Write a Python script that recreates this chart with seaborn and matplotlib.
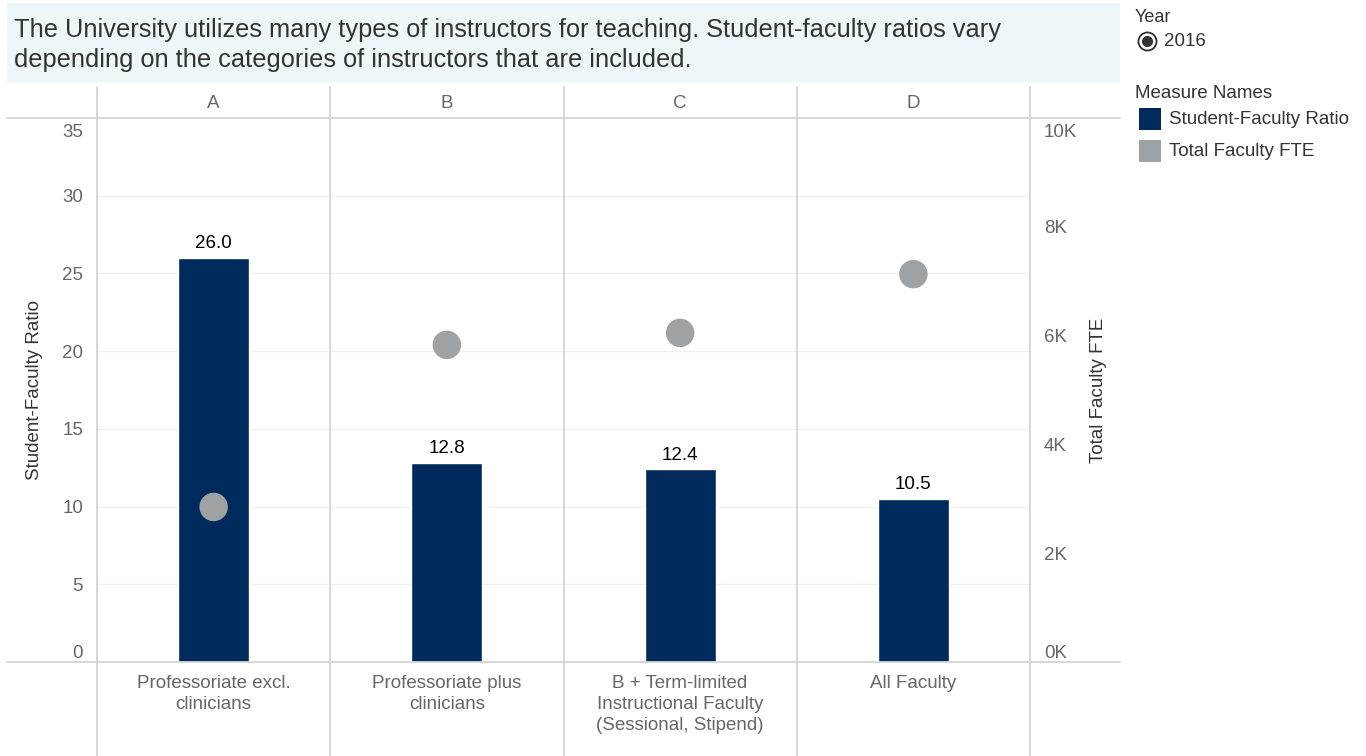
import numpy as np
import pandas as pd
import matplotlib
matplotlib.use("Agg")
import matplotlib.pyplot as plt
from matplotlib.lines import Line2D
from matplotlib.patches import Rectangle
from matplotlib.ticker import FuncFormatter, FixedLocator
from matplotlib.transforms import ScaledTranslation
import seaborn as sns

# ---- data ----
panels = ["A", "B", "C", "D"]
categories = ["Professoriate excl.\nclinicians",
              "Professoriate plus\nclinicians",
              "B + Term-limited\nInstructional Faculty\n(Sessional, Stipend)",
              "All Faculty"]
ratio = [26.0, 12.8, 12.4, 10.5]
fte = [2850, 5830, 6050, 7130]
left_ticks = [0, 5, 10, 15, 20, 25, 30, 35]
right_ticks = [0, 2000, 4000, 6000, 8000, 10000]
title = ("The University utilizes many types of instructors for teaching. Student-faculty ratios vary\n"
         "depending on the categories of instructors that are included.")

sns.set_style("white")
plt.rcParams["font.family"] = ["Liberation Sans", "DejaVu Sans"]

NAVY = "#002a5c"
GRAY = "#9ea2a5"
LINE = "#d4d4d4"
TXT = "#333333"
TICK = "#666666"
FS = 13.5

W, H = 1366, 756
fig = plt.figure(figsize=(W / 100, H / 100), dpi=100)

def fx(x):
    return x / W

def fy(y):
    return 1 - y / H

# title box
fig.add_artist(Rectangle((fx(7), fy(82)), fx(1120) - fx(7), fy(3) - fy(82),
                         transform=fig.transFigure, facecolor="#edf6f9",
                         edgecolor="none", zorder=0))
fig.text(fx(14), fy(45), title, fontsize=18.3, color=TXT, va="center",
         ha="left", linespacing=1.27)

# main axes
L, R, T, B = 97, 1030, 118, 662
ax = fig.add_axes([fx(L), fy(B), fx(R) - fx(L), fy(T) - fy(B)])
ax.set_facecolor("none")
df = pd.DataFrame({"category": categories, "ratio": ratio, "fte": fte,
                   "pos": np.arange(len(categories))})
sns.barplot(data=df, x="category", y="ratio", color=NAVY, width=0.305,
            saturation=1, ax=ax, zorder=3)
ax.bar_label(ax.containers[0], fmt="%.1f", padding=4, fontsize=FS, color="black")
ax.set_ylim(0, 35)
ax.set_xlim(-0.5, len(categories) - 0.5)
ax.yaxis.set_major_locator(FixedLocator(left_ticks))
for v in left_ticks[1:-1]:
    ax.axhline(v, color="#f0f0f0", lw=1, zorder=1)
for s in ax.spines.values():
    s.set_visible(False)
ax.tick_params(axis="y", length=0, pad=10, labelsize=FS, labelcolor=TICK)
ax.tick_params(axis="x", length=0, pad=9, labelsize=FS, labelcolor=TICK)
ax.set_xlabel("")
ax.set_ylabel("Student-Faculty Ratio", fontsize=FS, color=TXT, labelpad=14)
for lab in ax.get_xticklabels():
    lab.set_linespacing(1.32)

ax2 = ax.twinx()
sns.scatterplot(data=df, x="pos", y="fte", color=GRAY, s=420, edgecolor="none",
                ax=ax2, zorder=4, legend=False)
ax2.set_ylim(0, 10000)
ax2.yaxis.set_major_locator(FixedLocator(right_ticks))
ax2.yaxis.set_major_formatter(FuncFormatter(lambda v, p: f"{int(v/1000)}K"))
for s in ax2.spines.values():
    s.set_visible(False)
ax2.tick_params(axis="y", length=0, pad=10, labelsize=FS, labelcolor=TICK)
ax2.set_ylabel("Total Faculty FTE", fontsize=FS, color=TXT, labelpad=9)
ax2.set_xlim(-0.5, len(categories) - 0.5)

# end tick labels kept inside the pane (Tableau style)
fig.canvas.draw()
shift = ScaledTranslation(0, -6 / 100, fig.dpi_scale_trans)
for a in (ax, ax2):
    labs = a.get_yticklabels()
    labs[0].set_va("bottom")
    labs[-1].set_va("top")
    labs[-1].set_transform(labs[-1].get_transform() + shift)

# panel header
top = ax.secondary_xaxis("top")
top.set_xticks(range(len(panels)), panels)
top.tick_params(length=0, pad=4, labelsize=FS, labelcolor=TICK)
for s in top.spines.values():
    s.set_visible(False)

# frame lines
for y in (T, B):
    fig.add_artist(Line2D([fx(7), fx(1120)], [fy(y), fy(y)], color=LINE, lw=1.3,
                          transform=fig.transFigure, zorder=5))
for i in range(len(panels) + 1):
    x = L + i * (R - L) / len(panels)
    fig.add_artist(Line2D([fx(x), fx(x)], [fy(87), fy(756)], color=LINE, lw=1.3,
                          transform=fig.transFigure, zorder=5))

# legend
fig.text(fx(1135), fy(17), "Year", fontsize=FS - 0.5, color=TXT, va="center")
fig.add_artist(Line2D([fx(1147)], [fy(41)], marker="o", markersize=13,
                      mfc="white", mec="#333333", mew=1.3, transform=fig.transFigure))
fig.add_artist(Line2D([fx(1147)], [fy(41)], marker="o", markersize=7,
                      mfc="#333333", mec="#333333", transform=fig.transFigure))
fig.text(fx(1164), fy(41), "2016", fontsize=FS, color=TXT, va="center")
fig.text(fx(1135), fy(93), "Measure Names", fontsize=FS, color=TXT, va="center")
for yy, col, name in [(119, NAVY, "Student-Faculty Ratio"), (151, GRAY, "Total Faculty FTE")]:
    fig.add_artist(Rectangle((fx(1139), fy(yy + 11)), fx(22), 22 / H,
                             transform=fig.transFigure, facecolor=col, edgecolor="none"))
    fig.text(fx(1169), fy(yy), name, fontsize=FS, color=TXT, va="center")

fig.savefig("out.png", dpi=100)
